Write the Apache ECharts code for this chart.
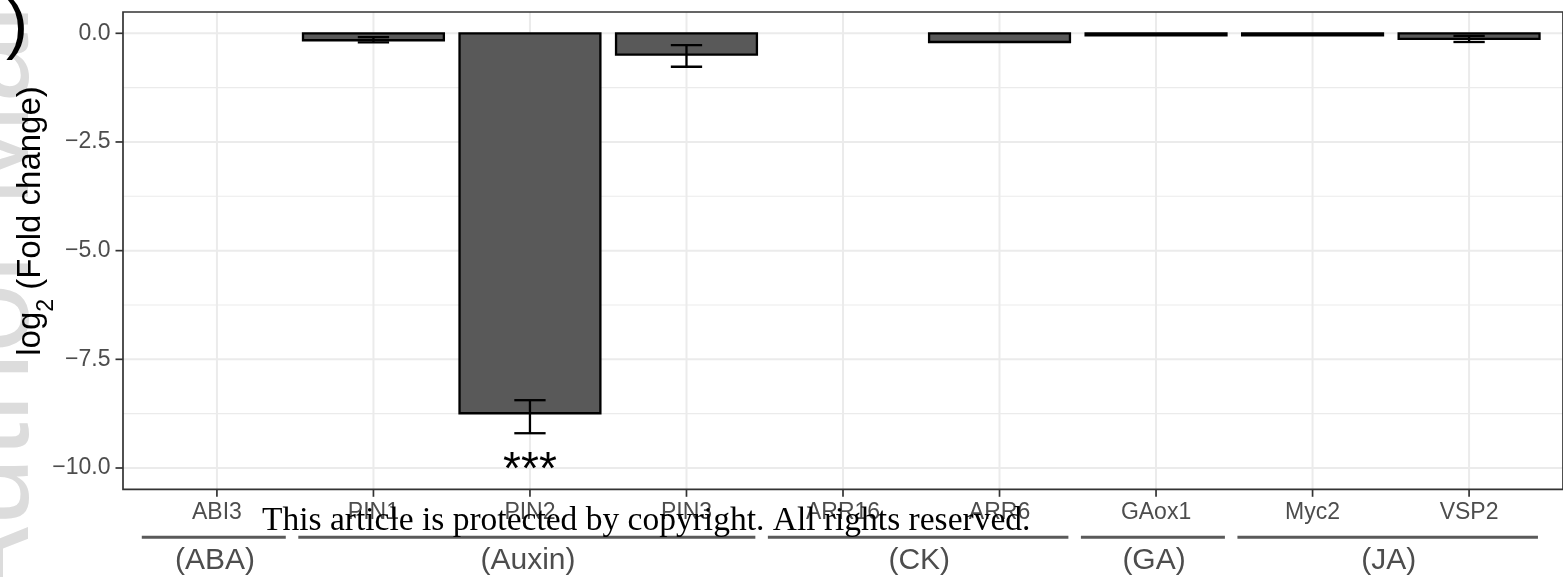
<!DOCTYPE html>
<html><head><meta charset="utf-8">
<script src="https://cdn.jsdelivr.net/npm/echarts@6/dist/echarts.min.js"></script>
<style>html,body{margin:0;padding:0;background:#fff}#c{width:1563px;height:577px}</style>
</head><body><div id="c"></div>
<script>
const categories = ['ABI3','PIN1','PIN2','PIN3','ARR16','ARR6','GAox1','Myc2','VSP2'];
const foldChange = [null, -0.16, -8.74, -0.49, null, -0.20, -0.05, -0.05, -0.13];
const errLow     = [null, -0.21, -9.20, -0.77, null, null, null, null, -0.20];
const errHigh    = [null, -0.09, -8.44, -0.27, null, null, null, null, -0.06];
const significance = ['', '', '***', '', '', '', '', '', ''];
const yTicks = [-10, -7.5, -5, -2.5, 0];
const yMinorTicks = [-8.75, -6.25, -3.75, -1.25];
const groupNames = ['(ABA)', '(Auxin)', '(CK)', '(GA)', '(JA)'];
const groupFirst = [0, 1, 4, 6, 7];
const groupLast  = [0, 3, 5, 6, 8];

(function () {
const SANS = '"Liberation Sans", Arial, Helvetica, sans-serif';
const chart = echarts.init(document.getElementById('c'), null, {renderer: 'canvas'});

const fmtY = v => (v < 0 ? '\u2212' : '') + Math.abs(v).toFixed(1);
const TICK = 7.5;

const barData = [];
const errData = [];
const sigData = [];
categories.forEach((c, i) => {
  if (foldChange[i] != null) barData.push([i, foldChange[i]]);
  if (errLow[i] != null) errData.push([i, errLow[i], errHigh[i]]);
  if (significance[i]) sigData.push([i, errLow[i] != null ? errLow[i] : foldChange[i], significance[i]]);
});

const option = {
  animation: false,
  backgroundColor: '#ffffff',
  grid: {left: 123, top: 12, width: 1444, height: 477.3, show: false, containLabel: false},
  xAxis: {
    type: 'value', min: -0.6, max: 8.6, position: 'bottom',
    axisLine: {show: false, onZero: false},
    axisTick: {show: false},
    axisLabel: {show: true, customValues: categories.map((c, i) => i),
                formatter: v => categories[Math.round(v)] || '',
                color: '#4d4d4d', fontSize: 23, fontFamily: SANS,
                margin: 23.4, verticalAlign: 'middle'},
    splitLine: {show: false}
  },
  yAxis: {
    type: 'value', min: -10.49, max: 0.49, position: 'left',
    axisLine: {show: false, onZero: false},
    axisTick: {show: false},
    axisLabel: {show: true, customValues: yTicks, formatter: fmtY,
                color: '#4d4d4d', fontSize: 23, fontFamily: SANS, margin: 12.5},
    splitLine: {show: false}
  },
  series: [
    {
      type: 'custom', name: 'gridlines', z: 1, silent: true,
      data: [[0, 0]],
      renderItem: (params, api) => {
        const cs = params.coordSys;
        const children = [];
        const tickStyle = {stroke: '#333333', lineWidth: 1.7};
        yMinorTicks.forEach(v => {
          const y = api.coord([0, v])[1];
          children.push({type: 'line', shape: {x1: cs.x, y1: y, x2: cs.x + cs.width, y2: y},
                         style: {stroke: '#ebebeb', lineWidth: 1.1}});
        });
        yTicks.forEach(v => {
          const y = api.coord([0, v])[1];
          children.push({type: 'line', shape: {x1: cs.x, y1: y, x2: cs.x + cs.width, y2: y},
                         style: {stroke: '#ebebeb', lineWidth: 2}});
          children.push({type: 'line', shape: {x1: cs.x - TICK, y1: y, x2: cs.x, y2: y}, style: tickStyle});
        });
        categories.forEach((c, i) => {
          const x = api.coord([i, 0])[0];
          children.push({type: 'line', shape: {x1: x, y1: cs.y, x2: x, y2: cs.y + cs.height},
                         style: {stroke: '#ebebeb', lineWidth: 2}});
          children.push({type: 'line', shape: {x1: x, y1: cs.y + cs.height, x2: x, y2: cs.y + cs.height + TICK},
                         style: tickStyle});
        });
        return {type: 'group', children};
      }
    },
    {
      type: 'custom', name: 'bars', z: 2,
      data: barData,
      encode: {x: 0, y: 1},
      renderItem: (params, api) => {
        const i = api.value(0), v = api.value(1);
        const p0 = api.coord([i, 0]);
        const p1 = api.coord([i, v]);
        const bw = api.size([1, 0])[0] * 0.9;
        return {type: 'rect',
                shape: {x: p0[0] - bw / 2, y: Math.min(p0[1], p1[1]), width: bw, height: Math.abs(p1[1] - p0[1])},
                style: {fill: '#595959', stroke: '#000000', lineWidth: 2.3}};
      }
    },
    {
      type: 'custom', name: 'errors', z: 3,
      data: errData,
      encode: {x: 0, y: [1, 2]},
      renderItem: (params, api) => {
        const i = api.value(0);
        const lo = api.coord([i, api.value(1)]);
        const hi = api.coord([i, api.value(2)]);
        const cw = api.size([1, 0])[0] * 0.2;
        const st = {stroke: '#000000', lineWidth: 2.3};
        return {type: 'group', children: [
          {type: 'line', shape: {x1: lo[0], y1: lo[1], x2: hi[0], y2: hi[1]}, style: st},
          {type: 'line', shape: {x1: lo[0] - cw / 2, y1: lo[1], x2: lo[0] + cw / 2, y2: lo[1]}, style: st},
          {type: 'line', shape: {x1: hi[0] - cw / 2, y1: hi[1], x2: hi[0] + cw / 2, y2: hi[1]}, style: st}
        ]};
      }
    },
    {
      type: 'custom', name: 'significance', z: 4,
      data: sigData,
      encode: {x: 0, y: 1},
      renderItem: (params, api) => {
        const i = api.value(0);
        const p = api.coord([i, api.value(1)]);
        return {type: 'text', x: p[0], y: p[1] + 38,
                style: {text: sigData[params.dataIndex][2], fill: '#000', fontSize: 46,
                        fontFamily: SANS, align: 'center', verticalAlign: 'middle'}};
      }
    }
  ]
};
chart.setOption(option);

// decorations placed through the axes' own conversions
const px = v => chart.convertToPixel({xAxisIndex: 0}, v);
const py = v => chart.convertToPixel({yAxisIndex: 0}, v);
const pLeft = px(-0.6), pRight = px(8.6), pTop = py(0.49), pBottom = py(-10.49);
const graphics = [];

// watermark
graphics.push({type: 'text', z: -10, x: -6, y: 610, rotation: Math.PI / 2,
  style: {text: 'Author Manuscript', fontSize: 125, fontFamily: SANS, fill: '#dcdcdc',
          align: 'left', verticalAlign: 'middle'}});
// panel letter (cut off)
graphics.push({type: 'text', z: 5, x: 28, y: 28,
  style: {text: ')', fontSize: 66, fontFamily: SANS, fill: '#000', align: 'right', verticalAlign: 'middle'}});
// y title
graphics.push({type: 'text', z: 5, x: 36, y: 221, rotation: Math.PI / 2,
  style: {text: '{a|log}{s|2}{a| (Fold change)}', align: 'center', verticalAlign: 'middle',
    rich: {
      a: {fontSize: 33, lineHeight: 44, verticalAlign: 'top', fontFamily: SANS, fill: '#000'},
      s: {fontSize: 23, lineHeight: 23, verticalAlign: 'bottom', fontFamily: SANS, fill: '#000'}
    }}});
// panel border
graphics.push({type: 'rect', z: 10, silent: true,
  shape: {x: pLeft, y: pTop, width: pRight - pLeft, height: pBottom - pTop},
  style: {fill: 'none', stroke: '#333333', lineWidth: 1.7}});
// group lines and labels
const bandPx = px(1) - px(0);
const lineY = pBottom + 48;
groupNames.forEach((g, k) => {
  const x1 = px(groupFirst[k]) - 0.48 * bandPx;
  const x2 = px(groupLast[k]) + 0.44 * bandPx;
  graphics.push({type: 'line', z: 5, shape: {x1, y1: lineY, x2, y2: lineY},
    style: {stroke: '#5a5a5a', lineWidth: 3}});
  const cx = (px(groupFirst[k]) + px(groupLast[k])) / 2;
  graphics.push({type: 'text', z: 5, x: cx - 2, y: pBottom + 71,
    style: {text: g, fontSize: 30, fontFamily: SANS, fill: '#4d4d4d', align: 'center', verticalAlign: 'middle'}});
});
// copyright notice
graphics.push({type: 'text', z: 20, x: 262, y: 521.5,
  style: {text: 'This article is protected by copyright. All rights reserved.', fontSize: 33.5,
          fontFamily: '"Liberation Serif", "Times New Roman", serif', fill: '#000',
          align: 'left', verticalAlign: 'middle'}});

chart.setOption({graphic: graphics});
})();
</script>
</body></html>
